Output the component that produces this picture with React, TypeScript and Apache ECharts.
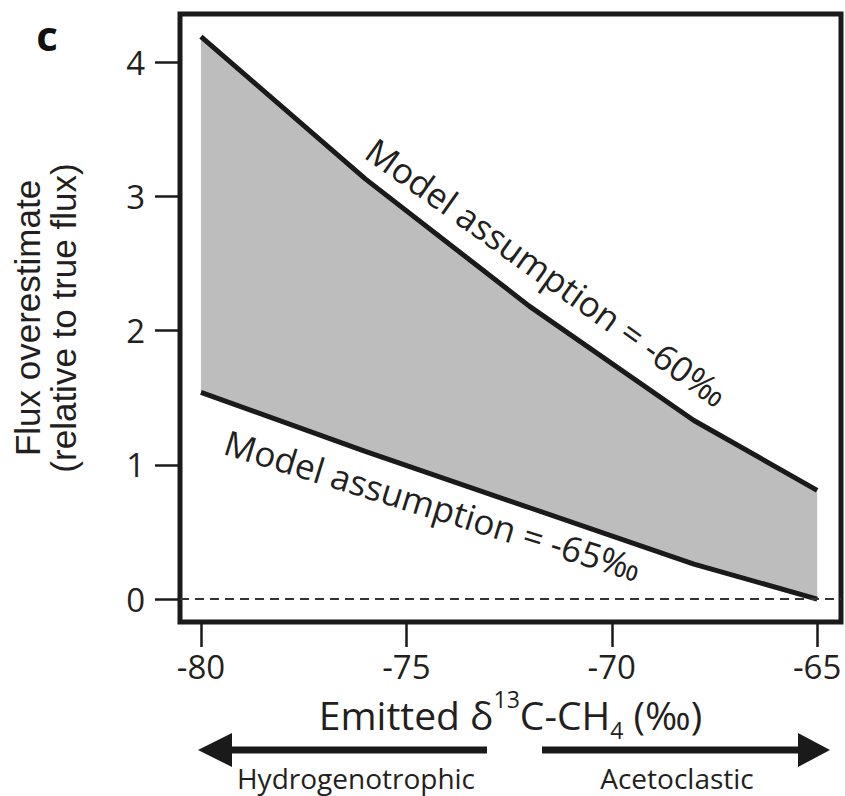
import React, { useEffect, useRef } from "react";
import * as echarts from "echarts";

// Emitted δ13C-CH4 (‰) at which the curves were computed
const emittedD13C = [-80, -76, -72, -68, -65];
// Flux overestimate (relative to true flux)
const fluxAssumeMinus60 = [4.19, 3.13, 2.18, 1.33, 0.81];
const fluxAssumeMinus65 = [1.54, 1.1, 0.68, 0.26, 0.0];

const xTickValues = [-80, -75, -70, -65];
const yTickValues = [0, 1, 2, 3, 4];

const curveLabels = ["Model assumption = -60‰", "Model assumption = -65‰"];
const processLabels = ["Hydrogenotrophic", "Acetoclastic"];
const panelLabel = "c";

const INK = "#231f20";
const FONT = "Open Sans";

export default function App() {
  const ref = useRef<HTMLDivElement>(null);

  useEffect(() => {
    if (!ref.current) return;
    const chart = echarts.init(ref.current, null, { renderer: "svg" });

    const upper = emittedD13C.map((x, i) => [x, fluxAssumeMinus60[i]]);
    const lower = emittedD13C.map((x, i) => [x, fluxAssumeMinus65[i]]);

    const option: any = {
      animation: false,
      backgroundColor: "#ffffff",
      grid: {
        left: 180,
        right: 4,
        top: 14,
        bottom: 174,
        show: true,
        borderColor: "#1a1a1a",
        borderWidth: 5,
        backgroundColor: "transparent",
        outerBoundsMode: "none",
      },
      xAxis: {
        type: "value",
        min: -80.51,
        max: -64.42,
        axisLine: { show: false, onZero: false },
        splitLine: { show: false },
        axisTick: {
          show: true,
          customValues: xTickValues,
          length: 25,
          lineStyle: { color: "#1a1a1a", width: 2.5 },
        },
        axisLabel: {
          customValues: xTickValues,
          margin: 28,
          fontSize: 33,
          fontFamily: FONT,
          color: INK,
        },
        name: "Emitted δ{sup|13}C-CH{sub|4} (‰)",
        nameLocation: "middle",
        nameGap: 61,
        nameTextStyle: {
          fontSize: 39,
          lineHeight: 54,
          fontFamily: FONT,
          color: INK,
          rich: {
            sup: { fontSize: 23, lineHeight: 48, verticalAlign: "top", fontFamily: FONT, color: INK },
            sub: { fontSize: 23, lineHeight: 23, verticalAlign: "bottom", fontFamily: FONT, color: INK },
          },
        },
      },
      yAxis: {
        type: "value",
        min: -0.171,
        max: 4.358,
        axisLine: { show: false, onZero: false },
        splitLine: { show: false },
        axisTick: {
          show: true,
          customValues: yTickValues,
          length: 25,
          lineStyle: { color: "#1a1a1a", width: 2.5 },
        },
        axisLabel: {
          customValues: yTickValues,
          margin: 35,
          fontSize: 33,
          fontFamily: FONT,
          color: INK,
        },
        name: "Flux overestimate\n(relative to true flux)",
        nameLocation: "middle",
        nameRotate: 90,
        nameGap: 99,
        nameTextStyle: {
          fontSize: 35,
          lineHeight: 36,
          fontFamily: "Liberation Sans",
          color: INK,
        },
      },
      series: [
        {
          type: "custom",
          silent: true,
          z: 1,
          data: [[emittedD13C[0], 0]],
          renderItem: (_params: any, api: any) => {
            const pts = upper
              .concat(lower.slice().reverse())
              .map((p) => api.coord(p));
            return {
              type: "polygon",
              shape: { points: pts },
              style: { fill: "#bdbdbd", stroke: "none" },
            };
          },
        },
        {
          type: "line",
          name: curveLabels[0],
          data: upper,
          symbol: "none",
          z: 3,
          lineStyle: { color: "#1a1a1a", width: 5 },
        },
        {
          type: "line",
          name: curveLabels[1],
          data: lower,
          symbol: "none",
          z: 3,
          lineStyle: { color: "#1a1a1a", width: 5 },
          markLine: {
            silent: true,
            symbol: ["none", "none"],
            label: { show: false },
            lineStyle: { type: [9, 6], color: "#333333", width: 2 },
            data: [{ yAxis: 0 }],
          },
        },
      ],
      graphic: [
        {
          type: "text",
          x: 47,
          y: 34,
          style: {
            text: panelLabel,
            fontSize: 42,
            fontWeight: "bold",
            fontFamily: FONT,
            fill: "#111",
            align: "center",
            verticalAlign: "middle",
            textAlign: "center",
            textVerticalAlign: "middle",
          },
        },
        {
          type: "text",
          x: 547,
          y: 272,
          rotation: (-35.5 * Math.PI) / 180,
          z: 10,
          style: {
            text: curveLabels[0],
            fontSize: 35,
            fontFamily: FONT,
            fill: INK,
            align: "center",
            verticalAlign: "middle",
            textAlign: "center",
            textVerticalAlign: "middle",
          },
        },
        {
          type: "text",
          x: 433,
          y: 505,
          rotation: (-17.2 * Math.PI) / 180,
          z: 10,
          style: {
            text: curveLabels[1],
            fontSize: 35,
            fontFamily: FONT,
            fill: INK,
            align: "center",
            verticalAlign: "middle",
            textAlign: "center",
            textVerticalAlign: "middle",
          },
        },
        {
          type: "rect",
          shape: { x: 228, y: 746.5, width: 259, height: 7 },
          style: { fill: "#1a1a1a" },
        },
        {
          type: "polygon",
          shape: { points: [[198, 750], [232, 733], [232, 767]] },
          style: { fill: "#1a1a1a" },
        },
        {
          type: "rect",
          shape: { x: 542, y: 746.5, width: 259, height: 7 },
          style: { fill: "#1a1a1a" },
        },
        {
          type: "polygon",
          shape: { points: [[830, 750], [798, 733], [798, 767]] },
          style: { fill: "#1a1a1a" },
        },
        {
          type: "text",
          x: 356,
          y: 778,
          style: {
            text: processLabels[0],
            fontSize: 28,
            fontFamily: FONT,
            fill: INK,
            align: "center",
            verticalAlign: "middle",
            textAlign: "center",
            textVerticalAlign: "middle",
          },
        },
        {
          type: "text",
          x: 677,
          y: 778,
          style: {
            text: processLabels[1],
            fontSize: 28,
            fontFamily: FONT,
            fill: INK,
            align: "center",
            verticalAlign: "middle",
            textAlign: "center",
            textVerticalAlign: "middle",
          },
        },
      ],
    };

    chart.setOption(option);
    return () => chart.dispose();
  }, []);

  return (
    <div
      ref={ref}
      style={{ position: "absolute", left: 0, top: 0, width: 845, height: 796 }}
    />
  );
}
